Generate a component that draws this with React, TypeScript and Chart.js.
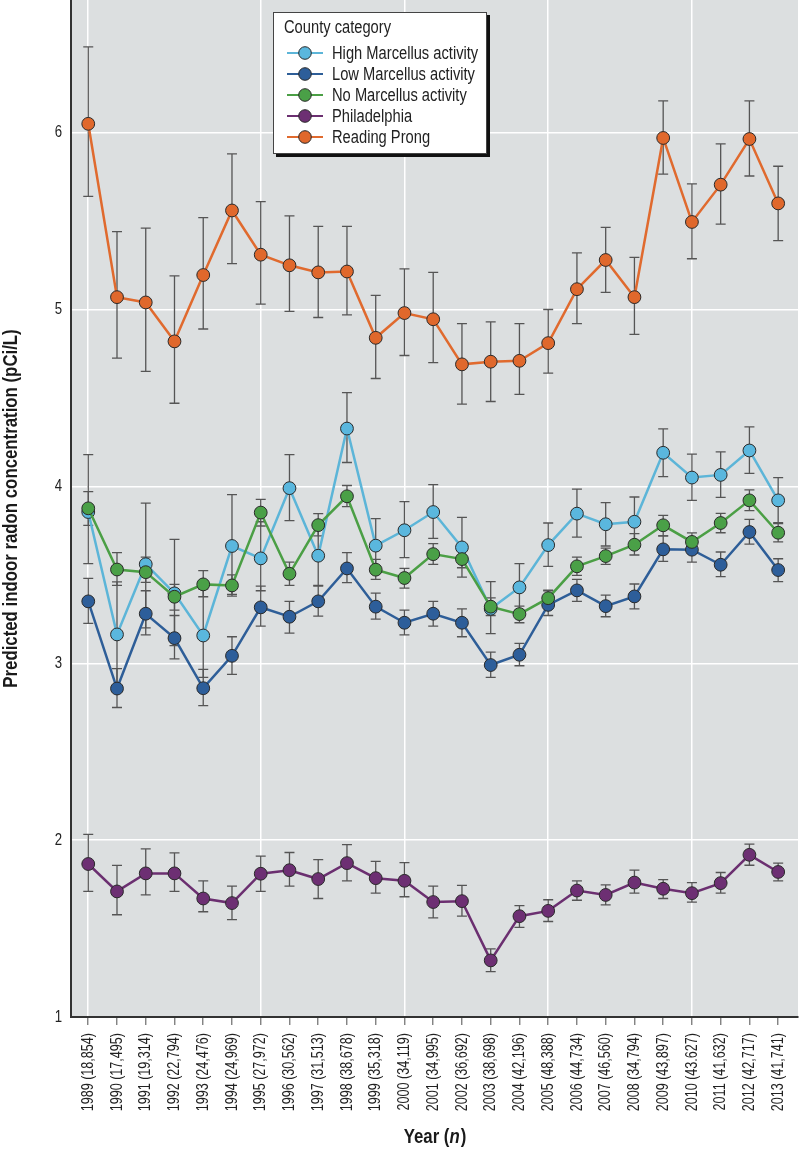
import React, { useEffect, useRef } from "react";
import { Chart, registerables } from "chart.js";

Chart.register(...registerables);

const years = [1989, 1990, 1991, 1992, 1993, 1994, 1995, 1996, 1997, 1998, 1999, 2000, 2001, 2002, 2003, 2004, 2005, 2006, 2007, 2008, 2009, 2010, 2011, 2012, 2013];
const sampleSizes = ["18,854", "17,495", "19,314", "22,794", "24,476", "24,969", "27,972", "30,562", "31,513", "38,678", "35,318", "34,119", "34,995", "36,692", "38,698", "42,196", "48,388", "44,734", "46,560", "34,794", "43,897", "43.627", "41,632", "42,717", "41,741"];
const gridYears = [1989, 1995, 2000, 2005, 2010];
const yTicks = [1, 2, 3, 4, 5, 6];

const seriesNames = ["High Marcellus activity", "Low Marcellus activity", "No Marcellus activity", "Philadelphia", "Reading Prong"];

const highMean = [3.855, 3.163, 3.56, 3.395, 3.157, 3.663, 3.593, 3.99, 3.608, 4.327, 3.665, 3.752, 3.855, 3.655, 3.308, 3.429, 3.668, 3.846, 3.786, 3.8, 4.19, 4.05, 4.065, 4.203, 3.921];
const highUpper = [4.18, 3.46, 3.905, 3.7, 3.42, 3.954, 3.8, 4.18, 3.78, 4.53, 3.818, 3.914, 4.01, 3.825, 3.461, 3.563, 3.793, 3.984, 3.908, 3.94, 4.325, 4.182, 4.195, 4.336, 4.05];
const highLower = [3.563, 2.87, 3.2, 3.1, 2.92, 3.38, 3.41, 3.806, 3.44, 4.135, 3.52, 3.597, 3.706, 3.487, 3.167, 3.3, 3.548, 3.713, 3.663, 3.654, 4.055, 3.921, 3.938, 4.074, 3.795];

const lowMean = [3.35, 2.857, 3.28, 3.142, 2.859, 3.042, 3.316, 3.263, 3.35, 3.536, 3.32, 3.229, 3.28, 3.229, 2.99, 3.048, 3.33, 3.412, 3.323, 3.378, 3.644, 3.642, 3.557, 3.742, 3.527];
const lowUpper = [3.48, 2.97, 3.41, 3.27, 2.965, 3.15, 3.436, 3.35, 3.436, 3.625, 3.397, 3.3, 3.35, 3.308, 3.063, 3.112, 3.41, 3.474, 3.385, 3.448, 3.72, 3.71, 3.629, 3.814, 3.591];
const lowLower = [3.225, 2.75, 3.16, 3.025, 2.76, 2.937, 3.21, 3.17, 3.267, 3.456, 3.25, 3.161, 3.21, 3.15, 2.92, 2.986, 3.27, 3.35, 3.263, 3.308, 3.576, 3.572, 3.49, 3.674, 3.461];

const noMean = [3.876, 3.53, 3.515, 3.376, 3.446, 3.44, 3.852, 3.506, 3.781, 3.944, 3.529, 3.482, 3.617, 3.589, 3.32, 3.278, 3.368, 3.548, 3.606, 3.67, 3.78, 3.686, 3.793, 3.921, 3.738];
const noUpper = [3.97, 3.625, 3.6, 3.446, 3.524, 3.5, 3.927, 3.572, 3.846, 4.005, 3.587, 3.536, 3.676, 3.64, 3.37, 3.323, 3.414, 3.6, 3.651, 3.733, 3.836, 3.737, 3.848, 3.98, 3.79];
const noLower = [3.78, 3.44, 3.457, 3.3, 3.376, 3.39, 3.776, 3.44, 3.72, 3.886, 3.474, 3.425, 3.559, 3.54, 3.27, 3.229, 3.33, 3.497, 3.559, 3.612, 3.72, 3.635, 3.738, 3.863, 3.686];

const phMean = [1.865, 1.71, 1.812, 1.812, 1.67, 1.644, 1.81, 1.83, 1.78, 1.87, 1.785, 1.77, 1.65, 1.655, 1.32, 1.57, 1.6, 1.715, 1.69, 1.76, 1.725, 1.7, 1.757, 1.917, 1.82];
const phUpper = [2.033, 1.857, 1.95, 1.928, 1.77, 1.74, 1.91, 1.93, 1.89, 1.975, 1.88, 1.873, 1.74, 1.744, 1.385, 1.63, 1.663, 1.77, 1.747, 1.83, 1.777, 1.76, 1.817, 1.977, 1.87];
const phLower = [1.71, 1.578, 1.69, 1.71, 1.595, 1.55, 1.71, 1.74, 1.67, 1.77, 1.7, 1.68, 1.56, 1.57, 1.256, 1.507, 1.54, 1.66, 1.634, 1.7, 1.67, 1.65, 1.7, 1.858, 1.77];

const rpMean = [6.05, 5.07, 5.04, 4.82, 5.195, 5.56, 5.31, 5.25, 5.21, 5.215, 4.84, 4.98, 4.945, 4.69, 4.705, 4.71, 4.81, 5.115, 5.28, 5.07, 5.97, 5.495, 5.706, 5.964, 5.6];
const rpUpper = [6.485, 5.44, 5.46, 5.19, 5.52, 5.88, 5.61, 5.53, 5.47, 5.47, 5.08, 5.23, 5.21, 4.92, 4.93, 4.92, 5.0, 5.32, 5.465, 5.295, 6.18, 5.71, 5.936, 6.18, 5.81];
const rpLower = [5.64, 4.725, 4.65, 4.47, 4.89, 5.26, 5.03, 4.99, 4.955, 4.97, 4.61, 4.74, 4.7, 4.465, 4.48, 4.52, 4.64, 4.92, 5.097, 4.86, 5.766, 5.287, 5.483, 5.755, 5.39];

const lineColors = ["#5cb5d8", "#2e5e98", "#4b9f45", "#6b2f70", "#e06a2e"];
const fillColors = ["#5ab7de", "#2d5e9a", "#4aa047", "#6d2f73", "#e0682c"];

const FONT = '"Liberation Sans", Arial, sans-serif';

function narrowText(
  ctx: CanvasRenderingContext2D,
  text: string,
  x: number,
  y: number,
  font: string,
  align: CanvasTextAlign,
  squeeze: number,
  rotate = 0
) {
  ctx.save();
  ctx.translate(x, y);
  if (rotate) ctx.rotate(rotate);
  ctx.scale(squeeze, 1);
  ctx.font = font;
  ctx.textAlign = align;
  ctx.textBaseline = "middle";
  ctx.fillText(text, 0, 0);
  ctx.restore();
}

const bgPlugin = {
  id: "plotBg",
  beforeDraw(chart: any) {
    const { ctx, chartArea } = chart;
    ctx.save();
    ctx.fillStyle = "#ffffff";
    ctx.fillRect(0, 0, chart.width, chart.height);
    ctx.fillStyle = "#dcdfe0";
    ctx.fillRect(chartArea.left, chartArea.top, chartArea.right - chartArea.left, chartArea.bottom - chartArea.top);
    ctx.restore();
  },
};

const errorBarPlugin = {
  id: "errorBars",
  beforeDatasetsDraw(chart: any) {
    const { ctx } = chart;
    const yScale = chart.scales.y;
    ctx.save();
    ctx.strokeStyle = "#555555";
    ctx.lineWidth = 1.3;
    chart.data.datasets.forEach((ds: any, i: number) => {
      const meta = chart.getDatasetMeta(i);
      meta.data.forEach((pt: any, j: number) => {
        const x = pt.x;
        const yt = yScale.getPixelForValue(ds.errUpper[j]);
        const yb = yScale.getPixelForValue(ds.errLower[j]);
        ctx.beginPath();
        ctx.moveTo(x, yt);
        ctx.lineTo(x, yb);
        ctx.moveTo(x - 5, yt);
        ctx.lineTo(x + 5, yt);
        ctx.moveTo(x - 5, yb);
        ctx.lineTo(x + 5, yb);
        ctx.stroke();
      });
    });
    ctx.restore();
  },
};

const textPlugin = {
  id: "customTexts",
  afterDraw(chart: any) {
    const { ctx, chartArea } = chart;
    const xScale = chart.scales.x;
    const yScale = chart.scales.y;
    ctx.save();

    ctx.fillStyle = "#222";
    years.forEach((yr, j) => {
      const px = xScale.getPixelForValue(yr);
      narrowText(ctx, `${yr} (${sampleSizes[j]})`, px, chartArea.bottom + 16, `17px ${FONT}`, "right", 0.74, -Math.PI / 2);
    });
    yTicks.forEach((v) => {
      const py = yScale.getPixelForValue(v);
      narrowText(ctx, String(v), chartArea.left - 9, py, `16.5px ${FONT}`, "right", 0.8);
    });

    // Legend
    const bx = 273, by = 12, bw = 214, bh = 142;
    ctx.fillStyle = "#111";
    ctx.fillRect(bx + 3, by + 3, bw, bh);
    ctx.fillStyle = "#ffffff";
    ctx.fillRect(bx, by, bw, bh);
    ctx.strokeStyle = "#444";
    ctx.lineWidth = 1;
    ctx.strokeRect(bx + 0.5, by + 0.5, bw - 1, bh - 1);
    ctx.fillStyle = "#222";
    narrowText(ctx, "County category", 284, 28, `17.5px ${FONT}`, "left", 0.84);
    const rows = [53, 74, 95, 116, 137];
    chart.data.datasets.forEach((ds: any, i: number) => {
      const yy = rows[i];
      ctx.strokeStyle = ds.borderColor;
      ctx.lineWidth = 2;
      ctx.beginPath();
      ctx.moveTo(287, yy);
      ctx.lineTo(323, yy);
      ctx.stroke();
      ctx.beginPath();
      ctx.arc(305, yy, 6.3, 0, Math.PI * 2);
      ctx.fillStyle = ds.pointBackgroundColor;
      ctx.fill();
      ctx.strokeStyle = "#2a2a2a";
      ctx.lineWidth = 1;
      ctx.stroke();
      ctx.fillStyle = "#222";
      narrowText(ctx, ds.label, 332, yy + 1, `17.5px ${FONT}`, "left", 0.84);
    });

    // Axis titles
    ctx.fillStyle = "#1a1a1a";
    const sq = 0.8;
    const cx = (chartArea.left + chartArea.right) / 2;
    const bold = `bold 21px ${FONT}`;
    const ital = `italic bold 21px ${FONT}`;
    ctx.font = bold;
    const w1 = ctx.measureText("Year (").width * sq;
    const w3 = ctx.measureText(")").width * sq;
    ctx.font = ital;
    const w2 = ctx.measureText("n").width * sq;
    let sx = cx - (w1 + w2 + w3) / 2;
    const ty = 1137;
    narrowText(ctx, "Year (", sx, ty, bold, "left", sq);
    sx += w1;
    narrowText(ctx, "n", sx, ty, ital, "left", sq);
    sx += w2 + 1;
    narrowText(ctx, ")", sx, ty, bold, "left", sq);

    narrowText(ctx, "Predicted indoor radon concentration (pCi/L)", 11, (chartArea.top + chartArea.bottom) / 2, bold, "center", sq, -Math.PI / 2);
    ctx.restore();
  },
};

const means = [highMean, lowMean, noMean, phMean, rpMean];
const uppers = [highUpper, lowUpper, noUpper, phUpper, rpUpper];
const lowers = [highLower, lowLower, noLower, phLower, rpLower];

export default function App() {
  const canvasRef = useRef<HTMLCanvasElement | null>(null);

  useEffect(() => {
    if (!canvasRef.current) return;
    const datasets = seriesNames.map((name, i) => ({
      label: name,
      data: years.map((yr, j) => ({ x: yr, y: means[i][j] })),
      errUpper: uppers[i],
      errLower: lowers[i],
      borderColor: lineColors[i],
      backgroundColor: fillColors[i],
      pointBackgroundColor: fillColors[i],
      pointBorderColor: "#2a2a2a",
      pointBorderWidth: 1,
      pointRadius: 6.4,
      borderWidth: 2.5,
      tension: 0,
      order: i === 2 ? 0 : 1,
    }));

    const chart = new Chart(canvasRef.current, {
      type: "line",
      data: { datasets: datasets as any },
      plugins: [bgPlugin, errorBarPlugin, textPlugin],
      options: {
        responsive: false,
        animation: false,
        layout: { autoPadding: false, padding: { left: 0, right: 2, top: 0, bottom: 0 } },
        plugins: {
          legend: { display: false },
          tooltip: { enabled: false },
        },
        scales: {
          x: {
            type: "linear",
            min: 1988.4,
            max: 2013.69,
            afterFit(scale: any) {
              scale.height = 137;
              scale.paddingLeft = 0;
              scale.paddingRight = 0;
              scale.paddingTop = 0;
              scale.paddingBottom = 0;
            },
            afterBuildTicks(scale: any) {
              scale.ticks = years.map((v) => ({ value: v }));
            },
            ticks: { display: false, autoSkip: false },
            grid: {
              color: (ctx: any) => (ctx.tick && gridYears.includes(ctx.tick.value) ? "#ffffff" : "rgba(0,0,0,0)"),
              lineWidth: 1.5,
              drawTicks: true,
              tickColor: "#777777",
              tickLength: 8,
              tickWidth: 1.3,
            },
            border: { display: true, color: "#333333", width: 2 },
          },
          y: {
            type: "linear",
            min: 1,
            max: 6.75,
            afterFit(scale: any) {
              scale.width = 71;
              scale.paddingLeft = 0;
              scale.paddingRight = 0;
              scale.paddingTop = 0;
              scale.paddingBottom = 0;
            },
            afterBuildTicks(scale: any) {
              scale.ticks = yTicks.map((v) => ({ value: v }));
            },
            ticks: { display: false },
            grid: {
              color: "#ffffff",
              lineWidth: 1.5,
              drawTicks: false,
            },
            border: { display: true, color: "#333333", width: 2 },
          },
        },
      },
    });
    return () => chart.destroy();
  }, []);

  return (
    <div style={{ position: "absolute", left: 0, top: 0, width: 800, height: 1154, background: "#fff" }}>
      <canvas ref={canvasRef} width={800} height={1154} style={{ display: "block", width: 800, height: 1154 }} />
    </div>
  );
}
